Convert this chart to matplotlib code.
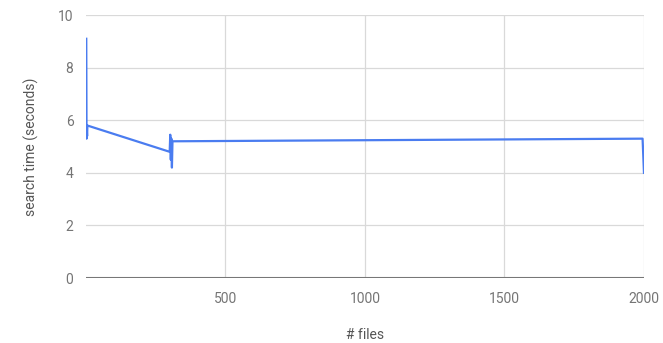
import matplotlib
matplotlib.use("Agg")
import matplotlib.pyplot as plt

# number of files vs search time (seconds)
n_files = [1, 2, 3, 4, 5, 300, 302, 304, 306, 308, 310, 1995, 2000]
search_time = [9.1, 5.3, 5.6, 5.4, 5.8, 4.8, 5.45, 4.5, 5.3, 4.2, 5.2, 5.3, 4.0]

x_ticks = [500, 1000, 1500, 2000]
y_ticks = [0, 2, 4, 6, 8, 10]

plt.rcParams["font.family"] = ["Roboto", "DejaVu Sans"]

fig = plt.figure(figsize=(6.63, 3.43), dpi=100)
ax = fig.add_axes([0.1297, 0.1895, 0.8416, 0.7665])

ax.plot(n_files, search_time, color="#4a7cf0", linewidth=1.6, zorder=3)

ax.set_xlim(0, 2000)
ax.set_ylim(0, 10)
ax.set_xticks(x_ticks)
ax.set_yticks(y_ticks)
ax.grid(True, color="#d9d9d9", linewidth=0.9)
ax.set_axisbelow(True)
ax.axhline(0, color="#777777", linewidth=1.5, zorder=2)

for s in ax.spines.values():
    s.set_visible(False)

ax.tick_params(length=0, labelsize=10, labelcolor="#757575")
ax.tick_params(axis="y", pad=9)
ax.tick_params(axis="x", pad=10)

ax.set_xlabel("# files", fontsize=10, color="#555555", labelpad=16)
ax.set_ylabel("search time (seconds)", fontsize=10, color="#555555", labelpad=14)

fig.savefig("out.png", dpi=100)
